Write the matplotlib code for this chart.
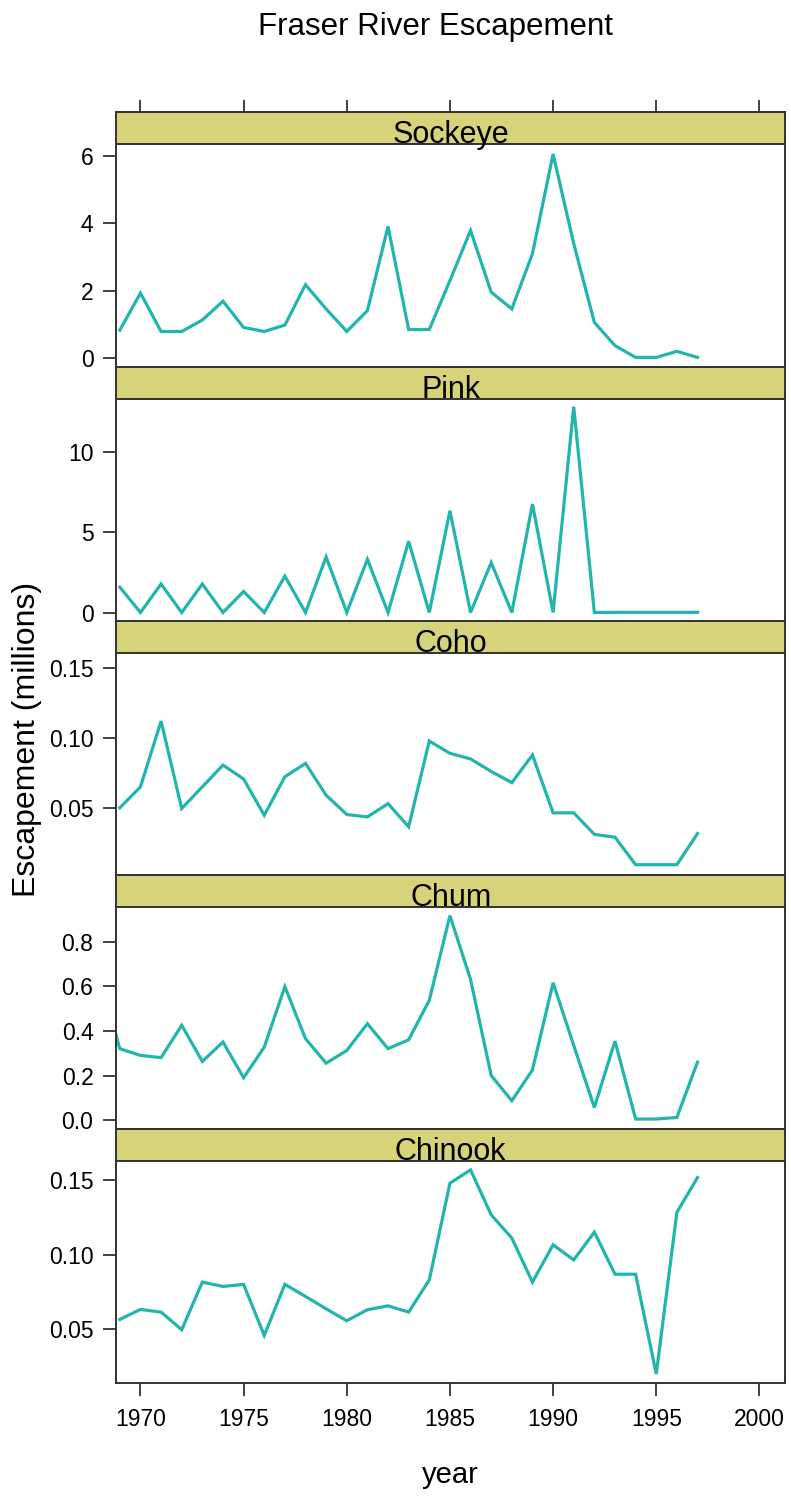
import numpy as np
import matplotlib
matplotlib.use("Agg")
import matplotlib.pyplot as plt

plt.rcParams['font.family'] = ['Liberation Sans', 'DejaVu Sans']

# data (millions of fish); 1968 only exists for chum
years = list(range(1968, 1998))
nan = np.nan
sockeye = [nan, 0.83, 1.93, 0.79, 0.79, 1.13, 1.69, 0.91, 0.79, 0.98, 2.18,
           1.46, 0.79, 1.41, 3.91, 0.85, 0.85, 2.3, 3.79, 1.96, 1.46,
           3.1, 6.06, 3.4, 1.06, 0.37, 0.02, 0.02, 0.2, 0.02]
pink = [nan, 1.58, 0.0, 1.77, 0.0, 1.77, 0.0, 1.31, 0.0, 2.26, 0.0,
        3.46, 0.0, 3.31, 0.0, 4.43, 0.0, 6.33, 0.0, 3.1, 0.0,
        6.75, 0.0, 12.8, 0.0, 0.01, 0.01, 0.01, 0.01, 0.01]
coho = [nan, 0.050, 0.065, 0.112, 0.0495, 0.065, 0.0806, 0.0706, 0.0447, 0.0722, 0.0818,
        0.059, 0.0452, 0.0435, 0.053, 0.0364, 0.0978, 0.089, 0.085, 0.076, 0.068,
        0.0878, 0.0464, 0.0464, 0.031, 0.029, 0.0093, 0.0093, 0.0093, 0.0316]
chum = [0.65, 0.32, 0.29, 0.28, 0.425, 0.263, 0.35, 0.19, 0.327, 0.598, 0.365,
        0.255, 0.312, 0.432, 0.32, 0.36, 0.537, 0.916, 0.63, 0.2, 0.087,
        0.225, 0.615, 0.335, 0.057, 0.354, 0.005, 0.005, 0.012, 0.26]
chinook = [nan, 0.0565, 0.0632, 0.0614, 0.0496, 0.0815, 0.0786, 0.080, 0.0458, 0.080, 0.0719,
           0.0636, 0.0556, 0.063, 0.0656, 0.0614, 0.083, 0.1478, 0.1567, 0.1266, 0.111,
           0.0815, 0.1065, 0.0964, 0.115, 0.0868, 0.0868, 0.0199, 0.1283, 0.1516]

species = ["Sockeye", "Pink", "Coho", "Chum", "Chinook"]
series = [sockeye, pink, coho, chum, chinook]
yticks = [[0, 2, 4, 6], [0, 5, 10], [0.05, 0.10, 0.15], [0.0, 0.2, 0.4, 0.6, 0.8], [0.05, 0.10, 0.15]]
yticklabels = [["0", "2", "4", "6"], ["0", "5", "10"], ["0.05", "0.10", "0.15"],
               ["0.0", "0.2", "0.4", "0.6", "0.8"], ["0.05", "0.10", "0.15"]]
ylims = [(-0.25, 6.35), (-0.51, 13.31), (0.002, 0.161), (-0.04, 0.955), (0.0137, 0.1626)]
xticks = [1970, 1975, 1980, 1985, 1990, 1995, 2000]

LINE = "#22B5AE"
STRIP = "#D6D37A"
FRAME = "#333333"

W, H = 791, 1500
fig = plt.figure(figsize=(W / 100, H / 100), dpi=100)

left_px, right_px = 116.3, 785.0
top_px, block, strip_h = 112.3, 254.2, 32.0

def fx(px):
    return px / W

def fy(px):
    return 1 - px / H

for i, name in enumerate(species):
    t = top_px + i * block
    # strip
    sax = fig.add_axes([fx(left_px), fy(t + strip_h), fx(right_px - left_px), strip_h / H])
    sax.set_facecolor(STRIP)
    sax.set_xlim(1968.83, 2001.24)
    sax.set_yticks([])
    for s in sax.spines.values():
        s.set_color(FRAME)
        s.set_linewidth(1.4)
    if i == 0:
        sax.xaxis.tick_top()
        sax.set_xticks(xticks)
        sax.set_xticklabels([])
        sax.tick_params(axis='x', direction='out', length=9, width=1.3, color=FRAME)
    else:
        sax.set_xticks([])
    fig.text(fx((left_px + right_px) / 2), fy(t + strip_h - 1), name,
             ha='center', va='baseline', fontsize=22, color='black', zorder=5)

    # panel
    ax = fig.add_axes([fx(left_px), fy(t + block), fx(right_px - left_px), (block - strip_h) / H])
    ax.plot(years, series[i], color=LINE, lw=2.3, solid_joinstyle='miter')
    ax.set_xlim(1968.83, 2001.24)
    ax.set_ylim(*ylims[i])
    ax.set_yticks(yticks[i])
    ax.set_yticklabels(yticklabels[i])
    ax.tick_params(axis='y', direction='out', length=9.5, width=1.3, color=FRAME,
                   labelsize=16.5, pad=7)
    ax.set_xticks(xticks)
    if i == len(species) - 1:
        ax.tick_params(axis='x', direction='out', length=9.5, width=1.3, color=FRAME,
                       labelsize=16.5, pad=8)
        ax.set_xlabel("year", fontsize=21, labelpad=22)
    else:
        ax.tick_params(axis='x', length=0, labelbottom=False)
    for s in ax.spines.values():
        s.set_color(FRAME)
        s.set_linewidth(1.4)

fig.text(fx(435.5), fy(35), "Fraser River Escapement", ha='center', va='baseline', fontsize=22.5)
fig.text(fx(27), fy(739), "Escapement (millions)", ha='center', va='center',
         rotation=90, fontsize=23)

fig.savefig("out.png", dpi=100)
